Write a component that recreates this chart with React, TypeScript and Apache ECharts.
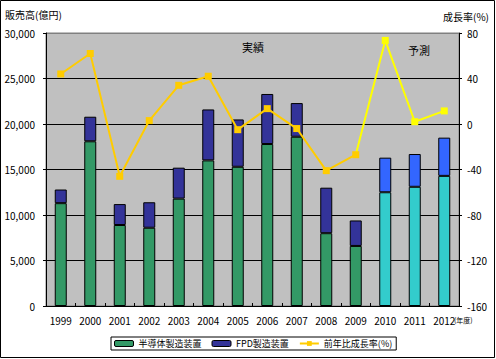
import React, { useEffect, useRef } from "react";
import * as echarts from "echarts";

const years = ["1999", "2000", "2001", "2002", "2003", "2004", "2005", "2006", "2007", "2008", "2009", "2010", "2011", "2012"];
const semiconductor = [11300, 18100, 8900, 8600, 11800, 16000, 15300, 17800, 18600, 8000, 6600, 12500, 13100, 14300];
const fpd = [1500, 2700, 2300, 2800, 3400, 5600, 5200, 5500, 3700, 5000, 2800, 3800, 3600, 4200];
const growth = [44, 62, -46, 3, 34, 42, -5, 13.5, -4, -41, -27, 73.5, 2, 11.5];
const forecastStart = 11; // index of 2010
const leftTicks = [0, 5000, 10000, 15000, 20000, 25000, 30000];
const rightTicks = [-160, -120, -80, -40, 0, 40, 80];

const FONT = "'Noto Sans CJK JP', 'Liberation Sans', sans-serif";

export default function App() {
  const ref = useRef<HTMLDivElement>(null);
  useEffect(() => {
    if (!ref.current) return;
    const chart = echarts.init(ref.current, null, { renderer: "svg" });
    const semiData = semiconductor.map((v, i) => ({
      value: v,
      itemStyle: { color: i >= forecastStart ? "#33CCCC" : "#339966" },
    }));
    const fpdData = fpd.map((v, i) => ({
      value: v,
      itemStyle: { color: i >= forecastStart ? "#3366FF" : "#333399" },
    }));
    const actualGrowth = growth.map((v, i) => (i < forecastStart ? v : null));
    const forecastGrowth = growth.map((v, i) => {
      if (i === forecastStart - 1) return { value: v, symbol: "none" };
      return i >= forecastStart ? v : null;
    });
    chart.setOption({
      animation: false,
      textStyle: { fontFamily: FONT },
      grid: {
        left: 46,
        right: 37,
        top: 33,
        bottom: 53,
        show: true,
        backgroundColor: "#C0C0C0",
        borderColor: "#808080",
        borderWidth: 1,
      },
      legend: {
        left: 111,
        top: 337,
        borderColor: "#000",
        borderWidth: 1,
        backgroundColor: "#fff",
        padding: [2, 4, 2, 3],
        itemGap: 10,
        itemWidth: 19,
        itemHeight: 6,
        textStyle: { fontSize: 9, color: "#000", fontFamily: FONT },
        data: [
          { name: "半導体製造装置", itemStyle: { color: "#339966", borderColor: "#000", borderWidth: 1 } },
          { name: "FPD製造装置", itemStyle: { color: "#333399", borderColor: "#000", borderWidth: 1 } },
          { name: "前年比成長率(%)" },
        ],
      },
      xAxis: {
        type: "category",
        data: years,
        boundaryGap: true,
        axisLine: { lineStyle: { color: "#000", width: 1 } },
        axisTick: { show: true, inside: true, length: 3, lineStyle: { color: "#000" } },
        axisLabel: { color: "#000", fontSize: 10, margin: 9, interval: 0, fontFamily: FONT },
        splitLine: { show: false },
      },
      yAxis: [
        {
          type: "value",
          min: leftTicks[0],
          max: leftTicks[leftTicks.length - 1],
          interval: 5000,
          axisLine: { show: true, lineStyle: { color: "#000" } },
          axisTick: { show: true, length: 3, lineStyle: { color: "#000" } },
          axisLabel: {
            color: "#000",
            fontSize: 10,
            margin: 11,
            fontFamily: FONT,
            formatter: (v: number) => v.toLocaleString("en-US"),
          },
          splitLine: {
            show: true,
            lineStyle: { color: ["#000", "#000", "#000", "#000", "#000", "#000", "#808080"], width: 1 },
          },
        },
        {
          type: "value",
          min: rightTicks[0],
          max: rightTicks[rightTicks.length - 1],
          interval: 40,
          position: "right",
          axisLine: { show: true, lineStyle: { color: "#000" } },
          axisTick: { show: true, length: 3, lineStyle: { color: "#000" } },
          axisLabel: { color: "#000", fontSize: 10, margin: 8, fontFamily: FONT },
          splitLine: { show: false },
        },
      ],
      series: [
        {
          name: "半導体製造装置",
          type: "bar",
          stack: "sales",
          barWidth: 12,
          itemStyle: { color: "#339966", borderColor: "#000", borderWidth: 1 },
          data: semiData,
        },
        {
          name: "FPD製造装置",
          type: "bar",
          stack: "sales",
          barWidth: 12,
          itemStyle: { color: "#333399", borderColor: "#000", borderWidth: 1 },
          data: fpdData,
        },
        {
          name: "前年比成長率(予測)",
          type: "line",
          yAxisIndex: 1,
          symbol: "rect",
          symbolSize: 7,
          lineStyle: { color: "#FFFF00", width: 2 },
          itemStyle: { color: "#FFFF00" },
          connectNulls: false,
          data: forecastGrowth,
          z: 3,
        },
        {
          name: "前年比成長率(%)",
          type: "line",
          yAxisIndex: 1,
          symbol: "rect",
          symbolSize: 7,
          lineStyle: { color: "#FFCC00", width: 2 },
          itemStyle: { color: "#FFCC00" },
          connectNulls: false,
          data: actualGrowth,
          z: 4,
        },
      ],
      graphic: [
        {
          type: "rect",
          shape: { x: 0.5, y: 0.5, width: 494, height: 357 },
          style: { fill: "none", stroke: "#000", lineWidth: 1 },
          z: 100,
        },
        {
          type: "text",
          left: 5,
          top: 9,
          style: { text: "販売高(億円)", fontSize: 10, fill: "#000", fontFamily: FONT },
        },
        {
          type: "text",
          left: 443,
          top: 11,
          style: { text: "成長率(%)", fontSize: 10, fill: "#000", fontFamily: FONT },
        },
        {
          type: "text",
          left: 242,
          top: 41,
          style: { text: "実績", fontSize: 11, fill: "#000", fontFamily: FONT },
        },
        {
          type: "text",
          left: 408,
          top: 44,
          style: { text: "予測", fontSize: 11, fill: "#000", fontFamily: FONT },
        },
        {
          type: "text",
          left: 454,
          top: 316,
          style: { text: "(年度)", fontSize: 7, fill: "#000", fontFamily: FONT },
        },
      ],
    });
    return () => chart.dispose();
  }, []);
  return (
    <div
      ref={ref}
      style={{ position: "fixed", left: 0, top: 0, width: 496, height: 359, background: "#fff" }}
    />
  );
}
